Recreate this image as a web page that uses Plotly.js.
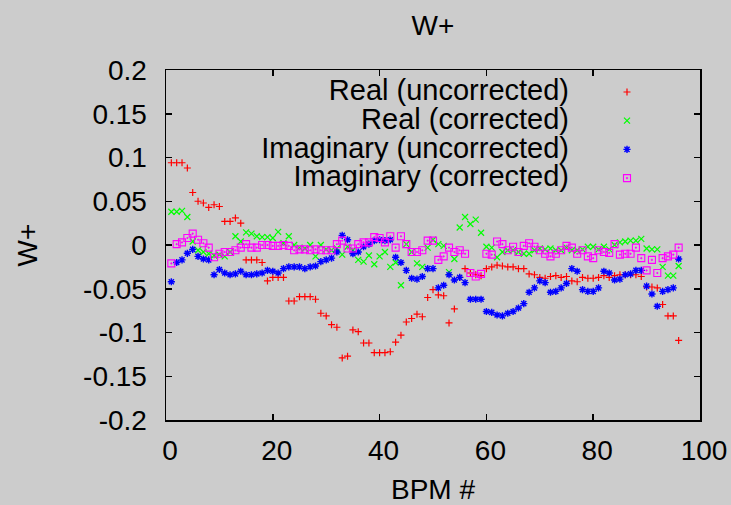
<!DOCTYPE html>
<html>
<head>
<meta charset="utf-8">
<script src="https://cdn.plot.ly/plotly-3.0.1.min.js"></script>
<style>
  html, body { margin: 0; padding: 0; background: #cccccc; }
  #chart { width: 731px; height: 505px; }
</style>
</head>
<body>
<div id="chart"></div>
<script>
// BPM index along the ring
const bpm = [1,2,3,4,5,6,7,8,9,10,11,12,13,14,15,16,17,18,19,20,
  21,22,23,24,25,26,27,28,29,30,31,32,33,34,35,36,37,38,39,40,
  41,42,43,44,45,46,47,48,49,50,51,52,53,54,55,56,57,58,59,60,
  61,62,63,64,65,66,67,68,69,70,71,72,73,74,75,76,77,78,79,80,
  81,82,83,84,85,86,87,88,89,90,91,92,93,94,95,96];

// W+ real part, before correction
const realUncorrected = [0.094,0.094,0.094,0.088,0.060,0.050,0.048,0.043,0.046,0.044,
  0.027,0.027,0.031,0.025,-0.017,-0.017,-0.017,-0.020,-0.041,-0.037,
  -0.037,-0.037,-0.064,-0.064,-0.059,-0.059,-0.059,-0.062,-0.078,-0.081,
  -0.091,-0.094,-0.129,-0.127,-0.097,-0.099,-0.112,-0.112,-0.123,-0.123,
  -0.123,-0.122,-0.111,-0.103,-0.088,-0.084,-0.079,-0.082,-0.060,-0.051,
  -0.057,-0.058,-0.089,-0.073,-0.037,-0.027,-0.032,-0.034,-0.035,-0.027,
  -0.025,-0.023,-0.024,-0.025,-0.025,-0.027,-0.027,-0.033,-0.034,-0.037,
  -0.038,-0.036,-0.035,-0.037,-0.036,-0.041,-0.042,-0.037,-0.038,-0.038,
  -0.037,-0.035,-0.037,-0.035,-0.034,-0.034,-0.034,-0.034,-0.036,-0.048,
  -0.048,-0.049,-0.068,-0.081,-0.081,-0.109];

// W+ real part, after correction
const realCorrected = [0.038,0.038,0.039,0.032,0.004,-0.006,-0.008,-0.010,-0.012,-0.011,
  -0.013,-0.008,0.010,0.004,0.0145,0.013,0.010,0.009,0.009,0.008,
  0.015,0.002,0.010,0.000,-0.003,-0.004,0.000,-0.013,0.000,-0.005,
  -0.006,-0.004,-0.011,-0.002,-0.006,-0.017,-0.019,-0.012,-0.022,-0.013,
  -0.008,-0.025,-0.020,-0.046,0.001,-0.008,-0.021,-0.025,-0.003,0.006,
  0.001,-0.001,-0.031,-0.016,0.020,0.032,0.024,0.029,0.014,-0.002,
  -0.003,-0.014,-0.008,-0.006,-0.006,-0.008,-0.010,-0.010,-0.006,-0.004,
  -0.005,-0.004,-0.006,-0.006,-0.003,-0.006,-0.006,-0.005,-0.002,-0.002,
  -0.005,-0.002,-0.005,0.000,0.003,0.004,0.005,0.005,0.007,-0.004,
  -0.005,-0.005,-0.025,-0.035,-0.035,-0.024];

// W+ imaginary part, before correction
const imagUncorrected = [-0.042,-0.020,-0.017,-0.0095,-0.005,-0.013,-0.016,-0.017,-0.034,-0.028,
  -0.032,-0.034,-0.033,-0.030,-0.034,-0.034,-0.033,-0.032,-0.029,-0.030,
  -0.032,-0.027,-0.025,-0.025,-0.025,-0.027,-0.025,-0.024,-0.019,-0.017,
  -0.015,-0.008,0.011,0.006,-0.010,-0.008,-0.002,0.001,0.005,0.006,
  0.005,0.006,-0.014,-0.020,-0.029,-0.038,-0.039,-0.036,-0.027,-0.027,
  -0.049,-0.046,-0.034,-0.040,-0.037,-0.043,-0.062,-0.062,-0.062,-0.076,
  -0.077,-0.080,-0.081,-0.078,-0.076,-0.072,-0.067,-0.054,-0.049,-0.041,
  -0.043,-0.054,-0.053,-0.049,-0.044,-0.027,-0.030,-0.051,-0.053,-0.053,
  -0.049,-0.030,-0.032,-0.040,-0.039,-0.034,-0.033,-0.029,-0.029,-0.047,
  -0.056,-0.070,-0.053,-0.051,-0.049,-0.016];

// W+ imaginary part, after correction
const imagCorrected = [-0.021,0.001,0.003,0.008,0.013,0.006,0.002,-0.003,-0.014,-0.010,
  -0.008,-0.008,-0.006,-0.003,0.001,-0.003,-0.003,0.000,0.000,-0.001,
  -0.001,0.000,-0.001,-0.006,-0.005,-0.005,-0.006,-0.005,-0.006,-0.006,
  -0.006,0.001,0.005,-0.004,-0.004,0.001,0.003,0.003,0.009,0.008,
  0.003,0.010,-0.003,0.010,0.001,-0.008,-0.008,-0.006,0.005,0.005,
  -0.017,-0.013,-0.003,-0.008,-0.006,-0.010,-0.032,-0.036,-0.033,-0.010,
  -0.011,0.004,0.001,-0.006,-0.002,-0.008,-0.001,0.002,-0.002,-0.006,
  -0.010,-0.013,-0.010,-0.006,-0.001,-0.003,-0.010,-0.006,-0.013,-0.015,
  -0.006,-0.008,-0.009,0.001,-0.011,-0.010,-0.010,-0.003,-0.015,-0.029,
  -0.017,-0.032,-0.015,-0.013,-0.011,-0.003];

const seriesNames = ['Real (uncorrected)', 'Real (corrected)',
  'Imaginary (uncorrected)', 'Imaginary (corrected)'];

const xTickVals = [0, 20, 40, 60, 80, 100];
const xTickText = ['0', '20', '40', '60', '80', '100'];
const yTickVals = [-0.2, -0.15, -0.1, -0.05, 0, 0.05, 0.1, 0.15, 0.2];
const yTickText = ['-0.2', '-0.15', '-0.1', '-0.05', '0', '0.05', '0.1', '0.15', '0.2'];

const FONT = 'Liberation Sans, Arial, Helvetica, sans-serif';

function pointTrace(y, name, symbol, color, size, width) {
  return {
    type: 'scatter', mode: 'markers', x: bpm, y: y, name: name,
    marker: { symbol: symbol, size: size, color: color,
              line: { color: color, width: width } }
  };
}

const traces = [
  pointTrace(realUncorrected, seriesNames[0], 'cross-thin-open', '#ff0000', 5, 1.2),
  pointTrace(realCorrected, seriesNames[1], 'x-thin-open', '#00ff00', 6, 1.2),
  pointTrace(imagUncorrected, seriesNames[2], 'asterisk-open', '#0000ff', 6, 1.4),
  pointTrace(imagCorrected, seriesNames[3], 'square-open-dot', '#ff00ff', 7, 1.1)
];

const axisCommon = {
  showline: true, linecolor: '#000000', linewidth: 1.5, mirror: 'ticks',
  ticks: 'inside', ticklen: 6, tickwidth: 1.5, tickcolor: '#000000',
  showgrid: false, zeroline: false,
  tickfont: { family: FONT, size: 28, color: '#000000' },
  tickmode: 'array'
};

const layout = {
  width: 731, height: 505,
  paper_bgcolor: '#cccccc', plot_bgcolor: '#cccccc',
  margin: { l: 166, r: 31, t: 70, b: 85 },
  showlegend: true,
  title: { text: 'W+', font: { family: FONT, size: 28, color: '#000000' },
           xref: 'paper', x: 0.5, xanchor: 'center',
           yref: 'container', y: 1 - 25.5 / 505, yanchor: 'middle' },
  xaxis: Object.assign({}, axisCommon, {
    range: [0, 100], tickvals: xTickVals, ticktext: xTickText,
    ticklabelshift: 4, ticklabelstandoff: 5,
    title: { text: 'BPM #', font: { family: FONT, size: 28, color: '#000000' }, standoff: 19 }
  }),
  yaxis: Object.assign({}, axisCommon, {
    range: [-0.2, 0.2], tickvals: yTickVals, ticktext: yTickText,
    ticklabelstandoff: 12,
    title: { text: 'W+', font: { family: FONT, size: 28, color: '#000000' }, standoff: 37 }
  }),
  legend: {
    x: 0.3, y: 0.98, xanchor: 'left', yanchor: 'top',
    bgcolor: 'rgba(0,0,0,0)', borderwidth: 0,
    font: { family: FONT, size: 29, color: '#000000' }
  }
};

// Key layout: labels right-aligned, sample symbol to the right of each label
const KEY_TEXT_RIGHT = 569;
const KEY_SYMBOL_X = 627;
const KEY_FIRST_ROW = 92;
const KEY_ROW_STEP = 28.7;
const KEY_TEXT_LIFT = 3;

function parseTranslate(t) {
  const m = /translate\(\s*([-\d.e]+)[ ,]+([-\d.e]+)\s*\)/.exec(t || '');
  return m ? [parseFloat(m[1]), parseFloat(m[2])] : [0, 0];
}

function arrangeKey(gd) {
  const legend = gd.querySelector('g.legend');
  if (!legend) return;
  const scroll = legend.querySelector('g.scrollbox');
  if (scroll) scroll.removeAttribute('clip-path');
  legend.removeAttribute('clip-path');
  const items = legend.querySelectorAll('g.traces');
  items.forEach(function (item, i) {
    const rowY = KEY_FIRST_ROW + i * KEY_ROW_STEP;
    const pts = item.querySelector('g.legendpoints');
    const text = item.querySelector('text.legendtext');
    let r = pts.getBoundingClientRect();
    const cy = r.top + r.height / 2;
    const cur = parseTranslate(item.getAttribute('transform'));
    item.setAttribute('transform', 'translate(' + cur[0] + ',' + (cur[1] + rowY - cy) + ')');
    r = pts.getBoundingClientRect();
    const cx = r.left + r.width / 2;
    const layers = item.querySelector('g.layers') || pts.parentNode;
    layers.setAttribute('transform', 'translate(' + (KEY_SYMBOL_X - cx) + ',0)');
    text.setAttribute('text-anchor', 'end');
    text.setAttribute('x', 0);
    const y0 = parseFloat(text.getAttribute('y')) || 0;
    text.setAttribute('y', y0 - KEY_TEXT_LIFT);
    const tr = text.getBoundingClientRect();
    text.setAttribute('x', KEY_TEXT_RIGHT - tr.right);
  });
}

const gd = document.getElementById('chart');
Plotly.newPlot(gd, traces, layout, { staticPlot: true, displayModeBar: false })
  .then(function () { arrangeKey(gd); });
</script>
</body>
</html>
